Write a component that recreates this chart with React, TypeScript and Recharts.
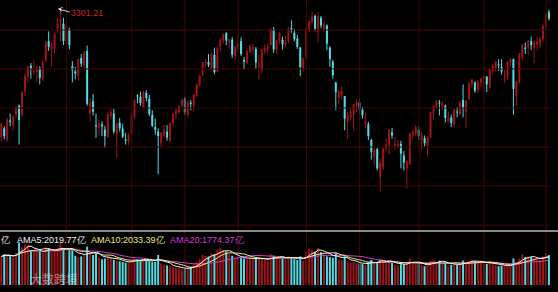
import { ComposedChart, Bar, Line, XAxis, YAxis, ReferenceLine, ReferenceDot } from 'recharts'

// trading sessions, Nov 2016 - Aug 2017
const sessions: [string, number[]][] = [
  ['2016-11', [1, 2, 3, 4, 7, 8, 9, 10, 11, 14, 15, 16, 17, 18, 21, 22, 23, 24, 25, 28, 29, 30]],
  ['2016-12', [1, 2, 5, 6, 7, 8, 9, 12, 13, 14, 15, 16, 19, 20, 21, 22, 23, 26, 27, 28, 29, 30]],
  ['2017-01', [3, 4, 5, 6, 9, 10, 11, 12, 13, 16, 17, 18, 19, 20, 23, 24, 25, 26]],
  ['2017-02', [3, 6, 7, 8, 9, 10, 13, 14, 15, 16, 17, 20, 21, 22, 23, 24, 27, 28]],
  ['2017-03', [1, 2, 3, 6, 7, 8, 9, 10, 13, 14, 15, 16, 17, 20, 21, 22, 23, 24, 27, 28, 29, 30, 31]],
  ['2017-04', [5, 6, 7, 10, 11, 12, 13, 14, 17, 18, 19, 20, 21, 24, 25, 26, 27, 28]],
  ['2017-05', [2, 3, 4, 5, 8, 9, 10, 11, 12, 15, 16, 17, 18, 19, 22, 23, 24, 25, 26, 31]],
  ['2017-06', [1, 2, 5, 6, 7, 8, 9, 12, 13, 14, 15, 16, 19, 20, 21, 22, 23, 26, 27, 28, 29, 30]],
  ['2017-07', [3, 4, 5, 6, 7, 10, 11, 12, 13, 14, 17, 18, 19, 20, 21, 24, 25, 26, 27, 28, 31]],
  ['2017-08', [1, 2]],
]

const opens = [
  3101, 3115, 3098, 3127, 3119, 3136, 3150, 3136, 3172, 3195, 3212, 3204, 3202, 3208, 3192, 3220, 3250, 3238, 3238, 3268, 3280, 3277,
  3246, 3268, 3211, 3203, 3196, 3224, 3212, 3235, 3138, 3157, 3120, 3116, 3121, 3113, 3102, 3134, 3138, 3106, 3124, 3115, 3098, 3095,
  3105, 3133, 3166, 3164, 3148, 3170, 3161, 3136, 3117, 3110, 3092, 3104, 3110, 3096, 3123, 3137, 3140, 3151,
  3161, 3136, 3155, 3150, 3165, 3182, 3197, 3216, 3218, 3207, 3229, 3203, 3241, 3252, 3262, 3247, 3252, 3226,
  3238, 3250, 3221, 3216, 3234, 3238, 3238, 3212, 3204, 3235, 3238, 3244, 3268, 3236, 3250, 3252, 3244, 3250, 3270, 3263, 3254, 3240, 3208,
  3224, 3268, 3280, 3289, 3264, 3286, 3270, 3274, 3240, 3218, 3186, 3162, 3168, 3165, 3125, 3131, 3136, 3150,
  3155, 3144, 3122, 3122, 3097, 3070, 3083, 3040, 3055, 3085, 3089, 3109, 3088, 3087, 3091, 3073, 3053, 3059, 3104, 3107,
  3113, 3097, 3100, 3088, 3101, 3139, 3147, 3155, 3150, 3150, 3126, 3132, 3120, 3141, 3136, 3159, 3141, 3160, 3183, 3186, 3175, 3186,
  3192, 3195, 3178, 3203, 3208, 3214, 3210, 3198, 3194, 3217, 3222, 3165, 3186, 3225, 3240, 3240, 3250, 3240, 3244, 3245, 3253,
  3275, 3295,
]
const highs = [
  3124, 3118, 3131, 3138, 3136, 3149, 3152, 3173, 3200, 3213, 3216, 3221, 3212, 3211, 3221, 3250, 3265, 3250, 3262, 3288, 3301.21, 3286,
  3278, 3271, 3219, 3210, 3223, 3230, 3235, 3243, 3162, 3168, 3138, 3129, 3126, 3119, 3140, 3146, 3145, 3124, 3131, 3122, 3108, 3108,
  3137, 3160, 3168, 3172, 3173, 3174, 3167, 3143, 3130, 3115, 3109, 3120, 3120, 3125, 3140, 3146, 3150, 3161,
  3164, 3158, 3159, 3168, 3184, 3197, 3218, 3222, 3230, 3232, 3240, 3241, 3254, 3262, 3264, 3254, 3256, 3242,
  3262, 3256, 3226, 3236, 3245, 3246, 3241, 3229, 3238, 3245, 3246, 3270, 3272, 3253, 3264, 3257, 3258, 3272, 3282, 3269, 3259, 3241, 3225,
  3271, 3282, 3295, 3291, 3295, 3289, 3281, 3276, 3242, 3221, 3187, 3175, 3180, 3165, 3140, 3147, 3153, 3159,
  3160, 3148, 3140, 3125, 3099, 3084, 3085, 3068, 3085, 3099, 3114, 3116, 3102, 3097, 3096, 3080, 3066, 3108, 3113, 3121,
  3118, 3110, 3104, 3103, 3141, 3151, 3158, 3159, 3158, 3152, 3141, 3136, 3145, 3148, 3157, 3183, 3158, 3187, 3192, 3188, 3189, 3193,
  3197, 3196, 3208, 3215, 3219, 3222, 3222, 3205, 3219, 3224, 3223, 3188, 3231, 3245, 3248, 3252, 3257, 3252, 3256, 3256, 3276,
  3293, 3299,
]
const lows = [
  3095, 3098, 3094, 3118, 3112, 3130, 3090, 3133, 3165, 3186, 3192, 3198, 3186, 3183, 3188, 3217, 3235, 3210, 3230, 3262, 3250, 3244,
  3243, 3237, 3186, 3191, 3189, 3210, 3206, 3150, 3125, 3135, 3100, 3104, 3103, 3085, 3100, 3129, 3107, 3070, 3110, 3100, 3090, 3089,
  3105, 3130, 3154, 3150, 3147, 3157, 3134, 3117, 3105, 3044, 3085, 3100, 3096, 3094, 3118, 3129, 3137, 3148,
  3136, 3132, 3143, 3141, 3163, 3180, 3196, 3210, 3210, 3205, 3199, 3202, 3234, 3246, 3244, 3238, 3224, 3220,
  3235, 3227, 3206, 3214, 3230, 3230, 3207, 3190, 3200, 3230, 3232, 3243, 3232, 3230, 3245, 3237, 3240, 3247, 3263, 3250, 3238, 3196, 3203,
  3224, 3264, 3277, 3265, 3247, 3270, 3264, 3236, 3210, 3192, 3143, 3153, 3160, 3112, 3098, 3128, 3112, 3140,
  3137, 3130, 3115, 3097, 3067, 3057, 3050, 3017, 3050, 3080, 3074, 3099, 3082, 3084, 3053, 3050, 3022, 3059, 3098, 3103,
  3097, 3082, 3087, 3072, 3100, 3129, 3145, 3135, 3143, 3124, 3123, 3117, 3118, 3132, 3135, 3132, 3115, 3160, 3177, 3170, 3170, 3180,
  3172, 3171, 3175, 3198, 3203, 3204, 3198, 3185, 3190, 3210, 3136, 3150, 3184, 3220, 3230, 3229, 3236, 3216, 3236, 3240, 3250,
  3270, 3282,
]
const closes = [
  3122, 3103, 3129, 3125, 3133, 3148, 3128, 3171, 3196, 3210, 3207, 3205, 3208, 3193, 3218, 3248, 3241, 3242, 3262, 3277, 3283, 3250,
  3273, 3244, 3205, 3200, 3222, 3215, 3233, 3153, 3155, 3141, 3118, 3123, 3118, 3103, 3137, 3140, 3110, 3123, 3115, 3102, 3096, 3104,
  3136, 3159, 3165, 3154, 3171, 3162, 3137, 3119, 3113, 3103, 3109, 3113, 3101, 3123, 3137, 3143, 3150, 3159,
  3140, 3157, 3153, 3167, 3183, 3197, 3217, 3218, 3213, 3230, 3202, 3240, 3253, 3261, 3251, 3253, 3229, 3242,
  3247, 3230, 3218, 3234, 3242, 3241, 3217, 3213, 3237, 3239, 3242, 3269, 3237, 3251, 3262, 3245, 3249, 3269, 3267, 3253, 3241, 3210, 3223,
  3270, 3281, 3287, 3269, 3289, 3274, 3276, 3246, 3222, 3197, 3171, 3172, 3173, 3130, 3135, 3141, 3152, 3155,
  3144, 3135, 3127, 3103, 3079, 3081, 3053, 3062, 3084, 3090, 3113, 3104, 3090, 3091, 3076, 3062, 3064, 3108, 3110, 3117,
  3103, 3106, 3092, 3102, 3140, 3150, 3158, 3154, 3154, 3131, 3132, 3123, 3144, 3140, 3156, 3147, 3158, 3185, 3191, 3173, 3188, 3192,
  3196, 3183, 3207, 3212, 3218, 3213, 3203, 3198, 3218, 3222, 3176, 3188, 3231, 3245, 3238, 3251, 3244, 3248, 3250, 3253, 3273,
  3293, 3285,
]

// turnover, 亿
const volumes = [
  2050, 2200, 2150, 2100, 1950, 2300, 3050, 2700, 2900, 2850, 2450, 2350, 2400, 2500, 2300, 2700, 2650, 2400, 2450, 2600, 3000, 2650,
  2350, 2500, 2550, 2100, 2000, 2050, 2250, 2750, 2300, 2150, 2250, 1950, 1850, 1900, 2050, 1950, 1800, 1750, 1700, 1650, 1600, 1650,
  1750, 1900, 1850, 1800, 1850, 1850, 1750, 1700, 1650, 2150, 1550, 1450, 1400, 1350, 1300, 1250, 1200, 1150,
  1150, 1250, 1300, 1500, 1650, 1850, 2150, 2100, 2050, 2250, 2200, 2550, 2650, 2500, 2400, 2200, 2100, 1950,
  2000, 1950, 1900, 1850, 1950, 1850, 1950, 1850, 1900, 1800, 1750, 2200, 2100, 1950, 2050, 1900, 1850, 2050, 2000, 1850, 1800, 2050, 1750,
  2400, 2600, 2500, 2400, 2650, 2350, 2200, 2050, 2000, 1950, 2300, 1850, 1800, 2050, 1700, 1600, 1650, 1550,
  1550, 1500, 1450, 1650, 1800, 1600, 1650, 1900, 1700, 1550, 1750, 1600, 1450, 1400, 1500, 1500, 1650, 1900, 1600, 1550,
  1500, 1450, 1350, 1400, 1750, 1800, 1650, 1750, 1550, 1600, 1400, 1450, 1500, 1450, 1550, 1750, 1600, 1750, 1800, 1700, 1650, 1600,
  1550, 1500, 1650, 1500, 1450, 1350, 1400, 1350, 1450, 1350, 1900, 1600, 1900, 2200, 2000, 2050, 2000, 1900, 1800, 1800, 2050,
  2300, 2150,
]

const gridPrices = [3267.2, 3206.9, 3146.5, 3086.2, 3025.9, 2965.5]
const monthStarts = ['2016-12-01', '2017-01-03', '2017-02-03', '2017-03-01', '2017-04-05', '2017-05-02', '2017-06-01', '2017-07-03', '2017-08-01']
const amaNames = ['AMA5', 'AMA10', 'AMA20']
const amaPeriods = [5, 10, 20]
const amaValues = ['2019.77', '2033.39', '1774.37']

const RED = '#a01318'
const CYAN = '#52dbe3'
const GRID = '#460606'
const AMA_COLORS = ['#f2f2f2', '#ecec78', '#d43cd4']

const dates = sessions.flatMap(([m, days]) => days.map((d) => `${m}-${String(d).padStart(2, '0')}`))

const movingAvg = (n: number, i: number) => {
  const from = Math.max(0, i - n + 1)
  const part = volumes.slice(from, i + 1)
  return part.reduce((a, b) => a + b, 0) / part.length
}

const rows = dates.map((d, i) => ({
  d,
  o: opens[i],
  h: highs[i],
  l: lows[i],
  c: closes[i],
  range: [lows[i], highs[i]],
  v: volumes[i],
  ama5: movingAvg(amaPeriods[0], i),
  ama10: movingAvg(amaPeriods[1], i),
  ama20: movingAvg(amaPeriods[2], i),
}))

const peakIdx = highs.indexOf(Math.max(...highs))

const Candle = (props: any) => {
  const { x, y, width, height, payload } = props
  const { o, h, l, c } = payload
  const color = c >= o ? RED : CYAN
  const k = h === l ? 0 : height / (h - l)
  const yo = y + (h - o) * k
  const yc = y + (h - c) * k
  const cx = x + width / 2
  const top = Math.min(yo, yc)
  const bh = Math.max(1, Math.abs(yc - yo))
  return (
    <g>
      <line x1={cx} x2={cx} y1={y} y2={y + height} stroke={color} strokeWidth={1} />
      <rect x={cx - 1} y={top} width={2} height={bh} fill={color} />
    </g>
  )
}

const VolBar = (props: any) => {
  const { x, y, width, height, payload } = props
  const cx = x + width / 2
  return <rect x={cx - 1} y={y} width={2} height={height} fill={payload.c >= payload.o ? RED : CYAN} />
}

const PeakMark = (props: any) => {
  const { cx, cy } = props
  return (
    <g>
      <line x1={cx - 2} y1={cy + 1} x2={cx + 9} y2={cy + 4} stroke="#d8d8d8" strokeWidth={1} />
      <path d={`M${cx - 2},${cy + 1} l4,-1.5 M${cx - 2},${cy + 1} l3,2.5`} stroke="#d8d8d8" strokeWidth={1} fill="none" />
      <text x={cx + 10} y={cy + 8} fill="#c0262a" fontSize={9} fontFamily="Liberation Sans, Arial, sans-serif">
        {highs[peakIdx].toFixed(2)}
      </text>
    </g>
  )
}

const legendText = {
  position: 'absolute' as const,
  top: 234,
  fontFamily: 'Liberation Sans, Arial, sans-serif',
  fontSize: 9,
  lineHeight: '12px',
  whiteSpace: 'nowrap' as const,
}

export default function App() {
  return (
    <div style={{ position: 'absolute', left: 0, top: 0, width: 558, height: 292, background: '#000', overflow: 'hidden' }}>
      <ComposedChart width={558} height={230} data={rows} margin={{ top: 0, right: 7.4, bottom: 0, left: 0 }}>
        <XAxis dataKey="d" hide />
        <YAxis hide domain={[2957.8, 3313.6]} allowDataOverflow />
        {gridPrices.map((p) => (
          <ReferenceLine key={p} y={p} stroke={GRID} strokeWidth={1} />
        ))}
        {monthStarts.map((d) => (
          <ReferenceLine key={d} x={d} stroke={GRID} strokeWidth={1} />
        ))}
        <Bar dataKey="range" shape={<Candle />} isAnimationActive={false} />
        <ReferenceDot x={dates[peakIdx]} y={highs[peakIdx]} r={1} shape={PeakMark} />
      </ComposedChart>
      <div style={{ position: 'absolute', left: 0, top: 230, width: 558, height: 2, background: '#8a8a8a' }} />
      <div style={{ position: 'absolute', left: 0, top: 232 }}>
        <ComposedChart width={558} height={60} data={rows} margin={{ top: 0, right: 7.4, bottom: 7, left: 0 }}>
          <XAxis dataKey="d" hide />
          <YAxis hide domain={[0, 3800]} allowDataOverflow />
          {monthStarts.map((d) => (
            <ReferenceLine key={d} x={d} stroke={GRID} strokeWidth={1} />
          ))}
          <Bar dataKey="v" shape={<VolBar />} isAnimationActive={false} />
          <Line dataKey="ama20" stroke={AMA_COLORS[2]} strokeWidth={1} dot={false} isAnimationActive={false} />
          <Line dataKey="ama10" stroke={AMA_COLORS[1]} strokeWidth={1} dot={false} isAnimationActive={false} />
          <Line dataKey="ama5" stroke={AMA_COLORS[0]} strokeWidth={1} dot={false} isAnimationActive={false} />
        </ComposedChart>
      </div>
      <div style={{ ...legendText, left: 1, color: AMA_COLORS[0] }}>亿</div>
      {amaNames.map((n, i) => (
        <div key={n} style={{ ...legendText, left: [17, 91, 170][i], color: AMA_COLORS[i] }}>
          {n}:{amaValues[i]}亿
        </div>
      ))}
      <div
        style={{
          position: 'absolute',
          left: 30,
          top: 271,
          fontFamily: '"Noto Sans CJK SC", sans-serif',
          fontSize: 12,
          lineHeight: '16px',
          color: 'rgba(235,235,235,0.5)',
        }}
      >
        大数跨境
      </div>
    </div>
  )
}
